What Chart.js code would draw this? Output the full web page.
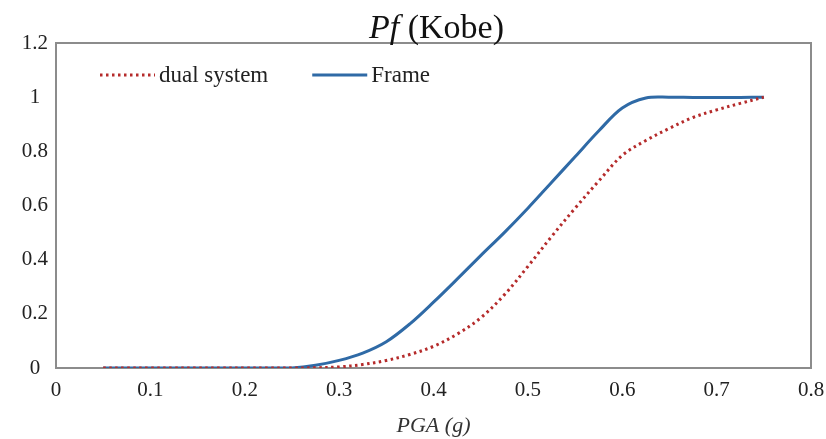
<!DOCTYPE html>
<html>
<head>
<meta charset="utf-8">
<script src="https://cdn.jsdelivr.net/npm/chart.js@4/dist/chart.umd.min.js"></script>
<style>
  html, body { margin: 0; padding: 0; background: #fff; }
</style>
</head>
<body>
<canvas id="chart" width="826" height="439"></canvas>
<script>
// PGA (g) sample points
const pga = [0.05, 0.075, 0.1, 0.125, 0.15, 0.175, 0.2, 0.225, 0.25, 0.275,
             0.3, 0.325, 0.35, 0.375, 0.4, 0.425, 0.45, 0.475, 0.5, 0.525,
             0.55, 0.575, 0.6, 0.625, 0.65, 0.675, 0.7, 0.725, 0.75];

// probability of failure
const dualSystem = [0, 0, 0, 0, 0, 0, 0, 0, 0, 0.001,
                    0.004, 0.013, 0.028, 0.05, 0.08, 0.125, 0.185, 0.27, 0.375, 0.485,
                    0.59, 0.69, 0.785, 0.84, 0.885, 0.925, 0.953, 0.977, 1.0];
const frame = [0, 0, 0, 0, 0, 0, 0, 0, 0, 0.01,
               0.028, 0.055, 0.097, 0.163, 0.243, 0.328, 0.415, 0.5, 0.59, 0.685,
               0.78, 0.875, 0.96, 0.997, 1.0, 0.999, 0.999, 0.999, 1.0];

const seriesNames = ["dual system", "Frame"];

const serif = "'Liberation Serif', 'Times New Roman', serif";

function toPoints(ys) {
  return pga.map((x, i) => ({ x: x, y: ys[i] }));
}

// gray box round the plot area
const frameBox = {
  id: "frameBox",
  beforeDatasetsDraw(chart) {
    const { ctx, chartArea: a } = chart;
    ctx.save();
    ctx.strokeStyle = "#8c8c8c";
    ctx.lineWidth = 2;
    ctx.strokeRect(a.left, a.top, a.right - a.left, a.bottom - a.top);
    ctx.restore();
  }
};

// legend in one row inside the plot, styled from the datasets
const inlineLegend = {
  id: "inlineLegend",
  afterDatasetsDraw(chart) {
    const { ctx, chartArea: a } = chart;
    const sample = 55;
    const y = a.top + 32;
    let x = a.left + 44;
    ctx.save();
    ctx.font = "23px " + serif;
    ctx.textBaseline = "middle";
    chart.data.datasets.forEach((ds) => {
      ctx.save();
      ctx.strokeStyle = ds.borderColor;
      ctx.lineWidth = ds.borderWidth;
      ctx.setLineDash(ds.borderDash || []);
      ctx.lineCap = ds.borderCapStyle || "butt";
      ctx.beginPath();
      ctx.moveTo(x, y);
      ctx.lineTo(x + sample, y);
      ctx.stroke();
      ctx.restore();
      ctx.fillStyle = "#222";
      ctx.fillText(ds.label, x + sample + 4, y + 1);
      x += sample + 4 + ctx.measureText(ds.label).width + 44;
    });
    ctx.restore();
  }
};

// title with the italic Pf
const pfTitle = {
  id: "pfTitle",
  afterDraw(chart) {
    const { ctx, chartArea: a } = chart;
    const part1 = "Pf";
    const part2 = " (Kobe)";
    ctx.save();
    ctx.fillStyle = "#111";
    ctx.textBaseline = "alphabetic";
    ctx.font = "italic 34px " + serif;
    const w1 = ctx.measureText(part1).width;
    ctx.font = "34px " + serif;
    const w2 = ctx.measureText(part2).width;
    const x = (a.left + a.right) / 2 + 3 - (w1 + w2) / 2;
    ctx.font = "italic 34px " + serif;
    ctx.fillText(part1, x, 38);
    ctx.font = "34px " + serif;
    ctx.fillText(part2, x + w1, 38);
    ctx.restore();
  }
};

const chart = new Chart(document.getElementById("chart").getContext("2d"), {
  type: "line",
  data: {
    datasets: [
      {
        label: seriesNames[0],
        data: toPoints(dualSystem),
        borderColor: "#b52b2b",
        backgroundColor: "#b52b2b",
        borderWidth: 3,
        borderDash: [2.5, 3.5],
        borderCapStyle: "butt",
        pointRadius: 0,
        tension: 0.35
      },
      {
        label: seriesNames[1],
        data: toPoints(frame),
        borderColor: "#2f6aa6",
        backgroundColor: "#2f6aa6",
        borderWidth: 3,
        pointRadius: 0,
        tension: 0.35
      }
    ]
  },
  options: {
    responsive: false,
    animation: false,
    layout: { padding: { left: 0, top: 43, right: 15, bottom: 0 } },
    scales: {
      x: {
        type: "linear",
        min: 0,
        max: 0.8,
        grid: { display: false, drawTicks: false },
        border: { display: false },
        ticks: { stepSize: 0.1, color: "#222", padding: 10, font: { family: serif, size: 21 } },
        title: {
          display: true,
          text: "PGA (g)",
          color: "#333",
          padding: 0,
          font: { family: serif, size: 22, style: "italic" }
        },
        afterFit(scale) {
          scale.height = 71;
          scale.paddingLeft = 0;
          scale.paddingRight = 0;
        }
      },
      y: {
        min: 0,
        max: 1.2,
        grid: { display: false, drawTicks: false },
        border: { display: false },
        ticks: {
          stepSize: 0.2,
          color: "#222",
          padding: 8,
          crossAlign: "center",
          font: { family: serif, size: 21 },
          callback: (v) => String(Math.round(v * 10) / 10)
        },
        afterFit(scale) { scale.width = 56; }
      }
    },
    plugins: {
      legend: { display: false },
      tooltip: { enabled: false }
    }
  },
  plugins: [frameBox, inlineLegend, pfTitle]
});
</script>
</body>
</html>
